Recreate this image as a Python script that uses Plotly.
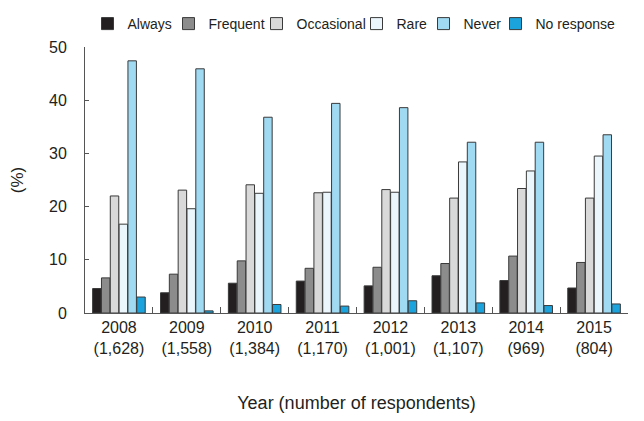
import plotly.graph_objects as go

years = ["2008", "2009", "2010", "2011", "2012", "2013", "2014", "2015"]
respondents = ["1,628", "1,558", "1,384", "1,170", "1,001", "1,107", "969", "804"]
tick_labels = [f"{y}<br>({n})" for y, n in zip(years, respondents)]

always = [4.6, 3.8, 5.6, 6.0, 5.1, 7.0, 6.1, 4.7]
frequent = [6.6, 7.3, 9.8, 8.4, 8.6, 9.3, 10.7, 9.5]
occasional = [22.0, 23.1, 24.1, 22.6, 23.2, 21.6, 23.4, 21.6]
rare = [16.7, 19.6, 22.5, 22.7, 22.7, 28.4, 26.7, 29.5]
never = [47.4, 45.9, 36.8, 39.4, 38.6, 32.1, 32.1, 33.5]
no_response = [3.0, 0.4, 1.6, 1.3, 2.3, 1.9, 1.4, 1.7]

series = [
    ("Always", always, "#231f20", 36),
    ("Frequent", frequent, "#8c8c8c", 43),
    ("Occasional", occasional, "#d9d9d9", 55),
    ("Rare", rare, "#eaf6fc", 22),
    ("Never", never, "#9fd9f2", 27),
    ("No response", no_response, "#1aa3dd", 81),
]

fig = go.Figure()
for name, vals, color, lw in series:
    fig.add_trace(go.Bar(
        x=tick_labels, y=vals, name=name, legendwidth=lw,
        marker=dict(color=color, line=dict(color="#3a3a3a", width=1)),
    ))

font_color = "#231f20"
# the page body adds an 8 px offset, so the figure is 8 px smaller and shifted
fig.update_layout(
    width=636, height=413,
    margin=dict(l=77, r=16, t=39, b=108, autoexpand=False),
    paper_bgcolor="white", plot_bgcolor="white",
    barmode="group", bargap=0.22, bargroupgap=0.04,
    font=dict(family="Liberation Sans, Arial, sans-serif", color=font_color),
    showlegend=True,
    legend=dict(orientation="h", x=0.125, xanchor="left", xref="container",
                y=1.0, yanchor="top", yref="container",
                font=dict(size=14), itemwidth=30, tracegroupgap=0),
    xaxis=dict(
        automargin=False,
        tickmode="array", tickvals=tick_labels, ticktext=tick_labels,
        showline=True, linecolor="#555555", linewidth=1,
        ticks="inside", tickson="boundaries", ticklen=6, tickcolor="#555555",
        tickfont=dict(size=16), showgrid=False,
        title=dict(text="Year (number of respondents)", font=dict(size=18), standoff=40),
    ),
    yaxis=dict(
        automargin=False,
        range=[0, 50], dtick=10, showline=True, linecolor="#555555", linewidth=1,
        ticks="inside", ticklen=4, tickcolor="#555555", showgrid=False, zeroline=False,
        tickfont=dict(size=16), ticklabelstandoff=14,
        title=dict(text="(%)", font=dict(size=17), standoff=30),
    ),
)

fig.write_html("out.html")
